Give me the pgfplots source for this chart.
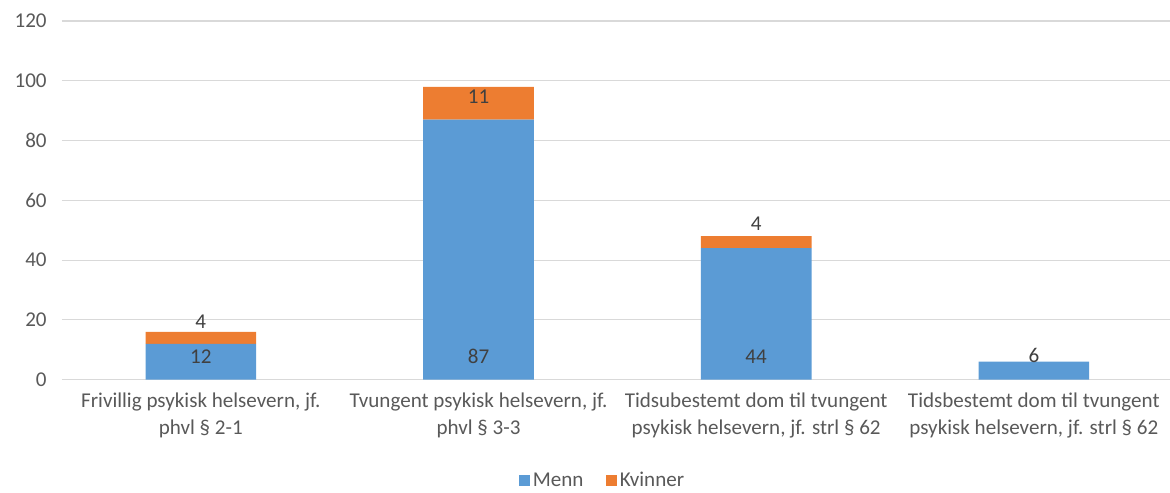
\documentclass[border=0pt]{standalone}
\usepackage{pgfplots}
\pgfplotsset{compat=1.18}
\usepackage{fontspec}
\setmainfont{Carlito}
\definecolor{menn}{HTML}{5B9BD5}
\definecolor{kvinner}{HTML}{ED7D31}
\definecolor{axtext}{HTML}{595959}
\definecolor{lbltext}{HTML}{404040}
\definecolor{gridc}{HTML}{D9D9D9}
\begin{document}
\begin{tikzpicture}
\path[use as bounding box] (-46.5pt,-84.75pt) rectangle (831pt,284.75pt);
\pgfplotsset{
  base/.style={
    scale only axis,
    width=833pt, height=269pt,
    xmin=-0.5, xmax=3.5,
    ymin=0, ymax=120,
  }
}
\begin{axis}[
  base,
  at={(0,0)}, anchor=south west,
  ybar stacked,
  bar width=83pt,
  ytick={0,20,...,120},
  ymajorgrids,
  grid style={gridc, line width=0.9pt},
  axis line style={draw=none},
  tick style={draw=none},
  xtick={0,1,2,3},
  xticklabels={{Frivillig psykisk helsevern, jf.\\phvl § 2-1},
                {Tvungent psykisk helsevern, jf.\\phvl § 3-3},
                {Tidsubestemt dom til tvungent\\psykisk helsevern, jf. strl § 62},
                {Tidsbestemt dom til tvungent\\psykisk helsevern, jf. strl § 62}},
  xticklabel style={align=center, font=\fontsize{15.8}{20.3}\selectfont, text=axtext, yshift=-6pt},
  yticklabel style={font=\fontsize{15.8}{19}\selectfont, text=axtext, xshift=-8pt},
  yticklabels={0,20,40,60,80,100,120},
  legend style={at={(0.487,-0.2816)}, anchor=center, draw=none, legend columns=2,
    font=\fontsize{15.8}{19}\selectfont, text=axtext,
    /tikz/every even column/.append style={column sep=15pt}},
  legend image code/.code={\fill[#1] (0pt,-4.2pt) rectangle (8.4pt,4.2pt);},
]
\addplot[fill=menn, draw=none] coordinates {(0,12) (1,87) (2,44) (3,6)};
\addlegendentry{Menn}
\addplot[fill=kvinner, draw=none] coordinates {(0,4) (1,11) (2,4) (3,0)};
\addlegendentry{Kvinner}
\end{axis}
\begin{axis}[
  base,
  at={(0,0)}, anchor=south west,
  hide axis,
]
\addplot[draw=none, mark=none, nodes near coords, point meta=explicit symbolic,
  every node near coord/.append style={anchor=center, text=lbltext, font=\fontsize{15.8}{19}\selectfont}]
  coordinates {(0,7.7)[12] (1,7.7)[87] (2,7.7)[44] (3,8)[6]
               (0,19.5)[4] (1,94.6)[11] (2,52.2)[4]};
\end{axis}
\end{tikzpicture}
\end{document}
